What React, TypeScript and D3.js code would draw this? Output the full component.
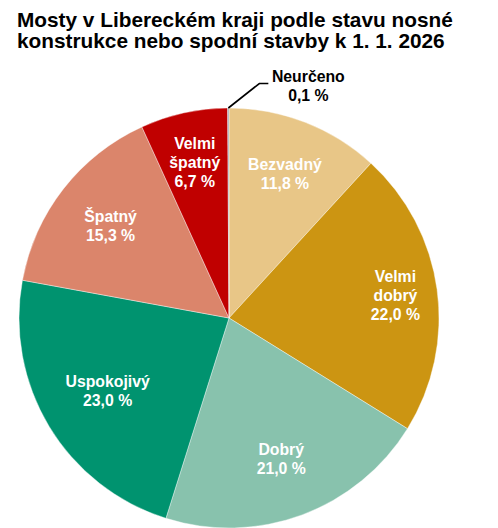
import * as d3 from "d3";
import React from "react";

const categories = ["Bezvadný", "Velmi dobrý", "Dobrý", "Uspokojivý", "Špatný", "Velmi špatný", "Neurčeno"];
const shares = [11.8, 22.0, 21.0, 23.0, 15.3, 6.7, 0.1];
const colors = ["#E8C687", "#CC9512", "#88C2AD", "#00936F", "#DB856B", "#C00000", "#9DA9B8"];
// how the label text wraps inside each slice
const labelLines = [["Bezvadný"], ["Velmi", "dobrý"], ["Dobrý"], ["Uspokojivý"], ["Špatný"], ["Velmi", "špatný"], ["Neurčeno"]];
const titleLines = ["Mosty v Libereckém kraji podle stavu nosné", "konstrukce nebo spodní stavby k 1. 1. 2026"];

const W = 498;
const H = 528;
const cx = 229;
const cy = 318;
const R = 210;
const font = "'Liberation Sans', Arial, sans-serif";
const fs = 15.8;
const lh = 19;

// Excel's best-fit label placement, as a fraction of the radius
const labelR: Record<string, number> = {
  "Bezvadný": 0.735,
  "Velmi dobrý": 0.8,
  "Dobrý": 0.715,
  "Uspokojivý": 0.675,
  "Špatný": 0.715,
  "Velmi špatný": 0.757,
};

const fmt = (v: number) => v.toFixed(1).replace(".", ",") + " %";

export default function App() {
  const rows = categories.map((c, i) => ({ name: c, value: shares[i], color: colors[i], lines: labelLines[i] }));
  const pie = d3.pie<(typeof rows)[0]>().sort(null).value((d) => d.value);
  const arcs = pie(rows);
  const arc = d3.arc<d3.PieArcDatum<(typeof rows)[0]>>().innerRadius(0).outerRadius(R);

  return (
    <svg width={W} height={H} style={{ position: "absolute", left: 0, top: 0, background: "#fff" }}>
      <text fontFamily={font} fontWeight="bold" fontSize={20.8} fill="#000">
        {titleLines.map((t, i) => (
          <tspan key={i} x={17} y={27 + i * 20.8}>
            {t}
          </tspan>
        ))}
      </text>

      <g transform={`translate(${cx},${cy})`}>
        {arcs.map((a) => (
          <path key={a.data.name} d={arc(a) ?? undefined} fill={a.data.color} stroke="#fff" strokeWidth={0.4} />
        ))}

        {arcs.map((a) => {
          const d = a.data;
          const lines = [...d.lines, fmt(d.value)];
          const mid = (a.startAngle + a.endAngle) / 2;
          if (d.name === "Neurčeno") {
            const p0 = [R * Math.sin(mid), -R * Math.cos(mid)];
            const p1 = [p0[0] + 31, p0[1] - 24.5];
            const p2 = [p1[0] + 9, p1[1]];
            return (
              <g key={d.name}>
                <polyline points={[p0, p1, p2].map((p) => p.join(",")).join(" ")} fill="none" stroke="#000" strokeWidth={1.6} />
                <text textAnchor="middle" fontFamily={font} fontWeight="bold" fontSize={fs} fill="#000">
                  {lines.map((l, i) => (
                    <tspan key={i} x={p2[0] + 40} y={p2[1] - 1.5 + i * lh}>
                      {l}
                    </tspan>
                  ))}
                </text>
              </g>
            );
          }
          const r = R * labelR[d.name];
          const lx = r * Math.sin(mid);
          const ly = -r * Math.cos(mid);
          const top = ly - ((lines.length - 1) * lh) / 2 + fs * 0.355;
          return (
            <text key={d.name} textAnchor="middle" fontFamily={font} fontWeight="bold" fontSize={fs} fill="#fff">
              {lines.map((l, i) => (
                <tspan key={i} x={lx} y={top + i * lh}>
                  {l}
                </tspan>
              ))}
            </text>
          );
        })}
      </g>
    </svg>
  );
}
